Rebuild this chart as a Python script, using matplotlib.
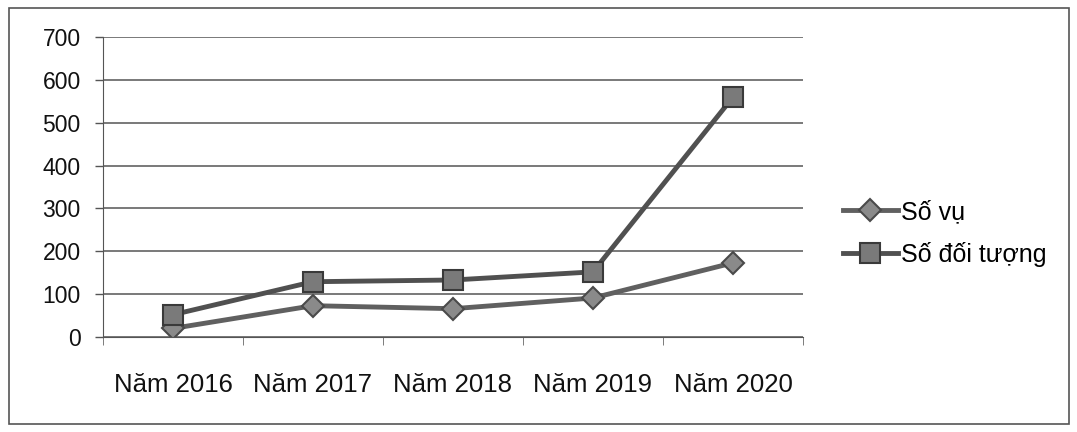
import numpy as np
import matplotlib.pyplot as plt
from matplotlib.patches import Rectangle

years = ['Năm 2016', 'Năm 2017', 'Năm 2018', 'Năm 2019', 'Năm 2020']
so_vu = [20, 73, 66, 91, 173]
so_doi_tuong = [52, 129, 133, 152, 560]
y_ticks = [0, 100, 200, 300, 400, 500, 600, 700]

plt.rcParams['font.family'] = ['Liberation Sans', 'DejaVu Sans']

fig = plt.figure(figsize=(10.77, 4.32), dpi=100)
ax = fig.add_axes([0.0956, 0.22, 0.65, 0.694])

x = np.arange(len(years))
ax.plot(x, so_vu, '-', color='#606060', lw=3.5, marker='D', ms=11,
        mfc='#8a8a8a', mec='#4a4a4a', mew=1.5, label='Số vụ')
ax.plot(x, so_doi_tuong, '-', color='#505050', lw=3.5, marker='s', ms=15,
        mfc='#7a7a7a', mec='#3a3a3a', mew=1.5, label='Số đối tượng')

ax.set_xlim(-0.5, len(years) - 0.5)
ax.set_ylim(0, 700)
ax.set_yticks(y_ticks)
ax.set_yticklabels([str(v) for v in y_ticks], fontsize=16.5, color='#111111')
ax.set_xticks(x)
ax.set_xticklabels(years, fontsize=18.5, color='#111111')
ax.tick_params(axis='x', length=0, pad=26)
ax.set_xticks(np.arange(len(years) + 1) - 0.5, minor=True)
ax.tick_params(axis='x', which='minor', length=6, color='#666666', direction='out')
ax.tick_params(axis='y', length=6, color='#555555', width=1, pad=10)
ax.grid(axis='y', color='#555555', lw=1.1)
ax.set_axisbelow(True)
for s in ['top', 'right']:
    ax.spines[s].set_visible(False)
ax.spines['left'].set_color('#555555')
ax.spines['bottom'].set_color('#555555')

ax.legend(loc='center left', bbox_to_anchor=(830 / 1077, 0.46),
          bbox_transform=fig.transFigure, frameon=False, borderpad=0,
          fontsize=18, handlelength=2.2, labelspacing=0.7, handletextpad=0.15)

fig.patches.append(Rectangle((0.008, 0.018), 0.985, 0.963, transform=fig.transFigure,
                             fill=False, ec='#555555', lw=1.2))

plt.savefig('out.png')
